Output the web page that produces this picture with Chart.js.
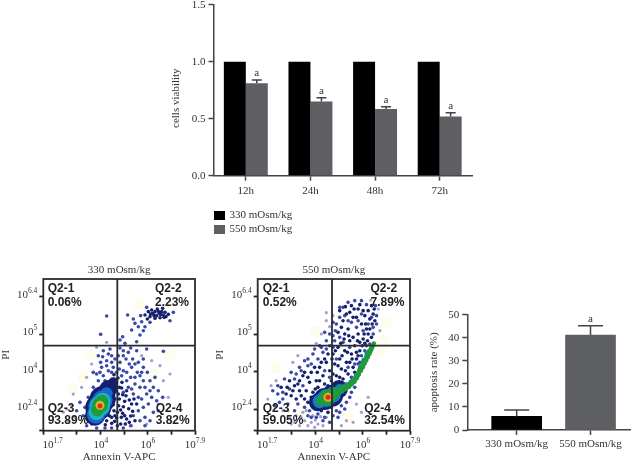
<!DOCTYPE html>
<html>
<head>
<title>Cell viability and apoptosis</title>
<style>
    body{margin:0;background:#fff;}
    canvas{position:absolute;filter:blur(0.35px);}
    .key{position:absolute;left:229.5px;font:11px "Liberation Serif";color:#333;line-height:13px;}
    .swatch{position:absolute;left:213.5px;width:11px;height:9px;}
</style>
</head>
<body>
<canvas id="viabilityChart" width="312" height="215" style="left:168px;top:0"></canvas>
<div class="swatch" style="top:211px;background:#000"></div>
<div class="key" style="top:208px">330 mOsm/kg</div>
<div class="swatch" style="top:225px;background:#5d5f63"></div>
<div class="key" style="top:222px">550 mOsm/kg</div>
<canvas id="flowChart1" width="212" height="204" style="left:0;top:260px"></canvas>
<canvas id="flowChart2" width="215" height="204" style="left:214px;top:260px"></canvas>
<canvas id="apoptosisChart" width="212" height="159" style="left:428px;top:305px"></canvas>
<script src="https://cdn.jsdelivr.net/npm/chart.js"></script>
<script>
const TEXT = "#333";
const AXIS = "#444";
const SERIF = "Liberation Serif";

// top bar chart
const hours = ["12h", "24h", "48h", "72h"];
const control = [1, 1, 1, 1];
const hyper = [0.81, 0.65, 0.585, 0.52];
const hyperErr = [0.03, 0.034, 0.02, 0.033];

// right bar chart
const groups = ["330 mOsm/kg", "550 mOsm/kg"];
const apoptosis = [5.9, 41.2];
const apoptosisErr = [2.8, 4];

// flow plots, axes are in instrument channels (0-455)
const xTicks = [0, 101, 173, 245, 314, 386, 455];
const yTicks = [0, 65, 177, 290, 402];
const xLabelPos = [28, 173, 314, 455];
const xLabelExp = ["1.7", "4", "6", "7.9"];
const yLabelPos = [65, 177, 290, 402];
const yLabelExp = ["2.4", "4", "5", "6.4"];
const gateX = 222;
const gateY = 255;
const gateNames = ["Q2-1", "Q2-2", "Q2-3", "Q2-4"];
const gateNameX1 = [13, 335, 13, 337];
const gateNameX2 = [15, 337, 15, 318];
const gateNameY = [427, 427, 67, 67];
const gatePctY = [384, 384, 29, 29];
const pct1 = ["0.06%", "2.23%", "93.89%", "3.82%"];
const pct2 = ["0.52%", "7.89%", "59.05%", "32.54%"];

const flow1Pale = [[140,227],[380,227],[90,127],[290,377],[120,160],[330,170]];
const flow1Lilac = [[95,40],[85,75],[90,110],[115,130],[130,160],[145,200],[160,250],[190,265],[70,65],[345,80],[360,150],[375,100],[325,210],[295,225],[350,195],[60,55],[75,30],[380,170],[310,20],[265,15]];
const flow1Blue = [[270,110],[285,60],[295,95],[290,130],[305,40],[275,140],[262,160],[250,150],[300,150],[315,80],[320,120],[330,55],[282,175],[265,190],[240,180],[228,185],[210,190],[195,180],[180,165],[165,150],[150,130],[135,100],[125,70],[135,40],[120,45],[110,85],[100,60],[145,20],[130,15],[160,8],[185,8],[205,8],[240,8],[175,190],[190,210],[205,225],[215,215],[230,205],[248,215],[255,235],[240,240],[200,245],[180,240],[165,225],[268,215],[285,205],[300,190],[312,175],[335,160],[345,120],[360,238],[310,245],[280,240],[172,205],[150,175],[190,344],[253,347],[275,322],[285,312],[295,327],[265,302],[238,282],[230,272],[172,289],[280,267],[290,287],[305,312],[270,335],[300,300],[245,262],[320,325],[292,345],[310,370],[380,330],[390,355],[235,165],[250,175],[275,160],[290,165],[305,130],[325,100],[340,90],[300,70],[310,110],[285,100],[265,125],[240,115],[255,130],[220,175],[205,175],[190,195],[170,175],[160,170],[185,150],[205,205],[225,225],[240,225],[258,200],[275,200],[295,175],[320,150],[330,130],[345,60],[358,100],[290,30],[305,15],[270,45],[262,15],[320,30],[230,248],[195,230],[178,222],[262,248],[300,215]];
const flow1Navy = [[190,30],[198,45],[205,22],[212,60],[220,38],[226,75],[232,20],[238,52],[244,88],[250,35],[256,66],[262,44],[215,95],[225,110],[235,128],[208,120],[200,88],[192,110],[218,140],[205,150],[228,95],[240,72],[248,105],[258,92],[268,58],[275,30],[280,80],[186,18],[196,62],[210,78],[222,55],[234,40],[246,20],[214,28],[202,72],[188,128],[196,140],[212,168],[224,158],[236,145],[305,347],[315,357],[320,342],[328,352],[335,357],[340,345],[348,352],[355,357],[360,347],[365,355],[350,339],[335,337],[325,362],[312,335],[342,365],[368,342],[375,349],[358,367],[210,100],[218,120],[238,108],[250,120],[265,80],[272,95],[200,100],[228,130],[188,95],[222,15],[258,25],[215,45],[205,40],[232,62],[244,45],[322,350],[332,345],[345,358],[352,348],[362,340]];
const flow1Core = [
    ["#14206f", [[155,45,10],[165,70,13],[178,95,13],[195,125,9],[210,145,5]]],
    ["#1a66d0", [[158,48,9],[168,72,11],[178,92,10],[190,112,6]]],
    ["#19b5c8", [[160,55,8],[170,75,10],[178,90,8]]],
    ["#1f9a3f", [[162,62,6.5],[170,77,8],[176,88,6.5]]],
    ["#c3c92a", [[170,76,4.5]]],
    ["#f08a1a", [[170,75,3.2]]],
    ["#e5231e", [[170,74,2.2]]]
];

const flow2Pale = [[175,297],[55,187],[385,327],[365,237],[375,270],[130,60],[270,40]];
const flow2Lilac = [[55,150],[40,135],[30,95],[95,40],[110,25],[125,15],[135,55],[150,15],[160,25],[170,10],[90,60],[75,60],[105,205],[120,225],[190,290],[205,330],[225,345],[205,354],[215,312],[175,262],[295,80],[310,55],[265,30],[330,100],[250,15],[285,25],[365,300],[360,365],[338,392],[140,30],[165,45],[180,20],[195,15],[205,40],[130,40],[115,45],[100,20],[145,60],[172,32],[188,42]];
const flow2Blue = [[60,110],[75,95],[90,80],[100,175],[110,60],[125,190],[140,210],[150,45],[165,230],[175,40],[185,255],[195,30],[205,270],[215,25],[225,285],[235,320],[245,340],[255,370],[270,385],[290,390],[310,390],[325,378],[345,310],[355,345],[352,375],[320,240],[300,200],[280,160],[265,140],[250,75],[235,60],[220,70],[240,40],[260,65],[275,100],[290,130],[230,270],[215,255],[195,235],[180,215],[160,200],[135,135],[115,170],[80,155],[65,85],[50,75],[45,120],[200,180],[215,160],[235,215],[255,265],[275,250],[295,310],[315,300],[270,330],[245,280],[225,250],[75,115],[60,135],[95,125],[110,155],[130,180],[150,195],[120,80],[140,70],[155,60],[180,50],[160,40],[200,40],[225,45],[245,55],[265,85],[280,115],[245,95],[150,215],[170,245],[190,250],[205,245],[215,290],[232,300],[225,325],[245,370],[260,345],[280,325],[300,330],[310,350],[330,320],[340,340],[355,320],[345,290],[335,260],[325,255],[310,225],[290,200],[270,190],[305,205],[200,295]];
const flow2Navy = [[70,130],[85,110],[95,150],[105,120],[115,95],[120,140],[130,105],[135,165],[145,120],[150,85],[155,145],[160,175],[165,115],[170,70],[175,150],[180,130],[185,190],[190,60],[195,165],[200,140],[205,205],[210,55],[215,180],[220,150],[225,230],[230,200],[235,165],[240,250],[245,215],[250,185],[255,155],[260,240],[265,205],[270,170],[275,270],[280,230],[285,190],[290,255],[295,215],[300,290],[305,240],[310,320],[315,275],[320,345],[325,305],[330,360],[335,335],[340,375],[345,350],[350,330],[330,290],[340,280],[270,305],[285,340],[260,290],[250,310],[265,350],[240,295],[300,365],[280,375],[245,360],[255,330],[262,372],[275,355],[288,365],[295,340],[305,378],[315,360],[322,320],[335,305],[342,320],[348,365],[320,262],[328,270],[312,255],[298,270],[285,280],[272,285],[258,275],[248,262],[232,240],[222,215],[210,230],[200,215],[190,205],[178,175],[170,190],[150,160],[140,175],[125,150],[110,135],[100,105],[88,130],[125,120],[140,95],[160,100],[172,125],[185,150],[198,120],[210,135],[225,170],[240,195],[252,225],[268,235],[282,215],[295,235],[305,265],[318,290],[262,180],[275,205],[290,175],[300,225],[245,160],[230,130],[258,135]];
const flow2Core = [
    ["#14206f", [[180,85,9],[200,95,11],[222,105,11],[243,125,9]]],
    ["#127fb8", [[185,88,7],[205,98,9],[225,108,8],[245,125,5],[262,132,3.5],[280,145,3],[296,165,3],[308,188,3],[318,210,3],[328,232,3]]],
    ["#1f9a3f", [[190,90,5],[208,100,8],[228,112,6],[248,122,4],[260,128,3.5],[270,135,3.5],[279,141,3],[287,148,3],[294,159,3],[300,170,3],[306,181,3],[312,192,3],[317,202,3],[322,212,3],[327,222,3],[332,232,3],[336,240,2.8],[340,248,2.6],[344,255,2.4],[347,262,2.2]]],
    ["#c3c92a", [[210,100,4.5]]],
    ["#f08a1a", [[210,100,3.4]]],
    ["#e5231e", [[210,100,2.4]]]
];

function barAxisY(width, opts){
    return Object.assign({
        min: 0,
        afterFit(s){ s.width = width; s.paddingTop = 0; s.paddingBottom = 0; },
        border: {color: AXIS, width: 1.5},
        grid: {drawOnChartArea: false, tickLength: 5, tickColor: AXIS, tickWidth: 1.5},
        ticks: {color: TEXT, font: {family: SERIF, size: 11}, padding: 3}
    }, opts);
}

// error bars and the "a" marks above them
function errorMarks(metaIndex, values, errors, capWidth, lettered){
    return {
        id: "errorMarks",
        afterDatasetsDraw(chart){
            const ctx = chart.ctx;
            const y = chart.scales.y;
            const bars = chart.getDatasetMeta(metaIndex).data;
            ctx.save();
            ctx.strokeStyle = AXIS;
            ctx.lineWidth = 1.5;
            ctx.fillStyle = TEXT;
            ctx.textAlign = "center";
            ctx.textBaseline = "middle";
            ctx.font = "11px " + SERIF;
            bars.forEach((bar, i) => {
                const top = y.getPixelForValue(values[i] + errors[i]);
                const base = y.getPixelForValue(values[i]);
                ctx.beginPath();
                ctx.moveTo(bar.x, base);
                ctx.lineTo(bar.x, top);
                ctx.moveTo(bar.x - capWidth / 2, top);
                ctx.lineTo(bar.x + capWidth / 2, top);
                ctx.stroke();
                if(lettered[i]) ctx.fillText("a", bar.x, top - 7);
            });
            ctx.restore();
        }
    };
}

const viabilityTitle = {
    id: "viabilityTitle",
    afterDraw(chart){
        const ctx = chart.ctx;
        ctx.save();
        ctx.translate(8, chart.scales.y.getPixelForValue(0.68));
        ctx.rotate(-Math.PI / 2);
        ctx.fillStyle = TEXT;
        ctx.font = "11px " + SERIF;
        ctx.textAlign = "center";
        ctx.textBaseline = "middle";
        ctx.fillText("cells viability", 0, 0);
        ctx.restore();
    }
};

new Chart(document.getElementById("viabilityChart"), {
    type: "bar",
    data: {
        labels: hours,
        datasets: [
            {label: "330 mOsm/kg", data: control, backgroundColor: "#000"},
            {label: "550 mOsm/kg", data: hyper, backgroundColor: "#5d5f63"}
        ]
    },
    options: {
        responsive: false,
        animation: false,
        layout: {padding: {top: 4.7, right: 8, bottom: 0, left: 0}},
        categoryPercentage: 0.68,
        barPercentage: 1,
        plugins: {legend: {display: false}, tooltip: {enabled: false}},
        scales: {
            x: {
                offset: true,
                afterFit(s){ s.height = 39.3; },
                border: {color: AXIS, width: 1.5},
                grid: {offset: false, drawOnChartArea: false, tickLength: 5, tickColor: AXIS, tickWidth: 1.5},
                ticks: {color: TEXT, font: {family: SERIF, size: 11}, padding: 4}
            },
            y: barAxisY(45.5, {
                max: 1.5,
                ticks: {
                    color: TEXT, font: {family: SERIF, size: 11}, padding: 3, stepSize: 0.5,
                    callback: v => v.toFixed(1)
                }
            })
        }
    },
    plugins: [errorMarks(1, hyper, hyperErr, 10, [true, true, true, true]), viabilityTitle]
});

new Chart(document.getElementById("apoptosisChart"), {
    type: "bar",
    data: {
        datasets: [{
            data: apoptosis.map((v, i) => ({x: i, y: v})),
            backgroundColor: ["#000", "#5d5f63"],
            barThickness: 50
        }]
    },
    options: {
        responsive: false,
        animation: false,
        layout: {padding: {top: 9.7, right: 10, bottom: 0, left: 0}},
        plugins: {legend: {display: false}, tooltip: {enabled: false}},
        scales: {
            x: {
                type: "linear",
                offset: false,
                min: -0.669,
                max: 1.535,
                afterFit(s){ s.height = 34; },
                afterBuildTicks(s){ s.ticks = groups.map((g, i) => ({value: i})); },
                border: {color: AXIS, width: 1.5},
                grid: {offset: false, drawOnChartArea: false, tickLength: 5, tickColor: AXIS, tickWidth: 1.5},
                ticks: {color: TEXT, font: {family: SERIF, size: 11}, padding: 3, maxRotation: 0, callback: v => groups[v]}
            },
            y: barAxisY(39.3, {
                max: 50,
                title: {display: true, text: "apoptosis rate (%)", color: TEXT, font: {family: SERIF, size: 11}, padding: 0},
                ticks: {color: TEXT, font: {family: SERIF, size: 11}, padding: 3, stepSize: 10}
            })
        }
    },
    plugins: [errorMarks(0, apoptosis, apoptosisErr, 25, [false, true])]
});

function toPoints(list){
    return list.map(p => p.length > 2 ? {x: p[0], y: p[1], r: p[2]} : {x: p[0], y: p[1]});
}

function cloud(list, color, radius){
    return {data: toPoints(list), backgroundColor: color, radius: radius, borderWidth: 0};
}

// frame, gates, gate text and the powers of ten
function flowDecor(gateNameX, pct){
    return {
        id: "flowDecor",
        afterDatasetsDraw(chart){
            const ctx = chart.ctx;
            const a = chart.chartArea;
            const x = chart.scales.x;
            const y = chart.scales.y;
            ctx.save();
            ctx.strokeStyle = "#2b2b2b";
            ctx.lineWidth = 1.8;
            ctx.strokeRect(a.left, a.top, a.right - a.left, a.bottom - a.top);
            ctx.beginPath();
            ctx.moveTo(x.getPixelForValue(gateX), a.top);
            ctx.lineTo(x.getPixelForValue(gateX), a.bottom);
            ctx.moveTo(a.left, y.getPixelForValue(gateY));
            ctx.lineTo(a.right, y.getPixelForValue(gateY));
            ctx.stroke();

            ctx.fillStyle = "#222";
            ctx.font = "bold 12px Liberation Sans";
            ctx.textAlign = "left";
            ctx.textBaseline = "middle";
            gateNames.forEach((name, i) => {
                ctx.fillText(name, x.getPixelForValue(gateNameX[i]), y.getPixelForValue(gateNameY[i]));
                ctx.fillText(pct[i], x.getPixelForValue(gateNameX[i]), y.getPixelForValue(gatePctY[i]));
            });

            ctx.fillStyle = TEXT;
            xLabelExp.forEach((exp, i) => {
                power(ctx, exp, x.getPixelForValue(xLabelPos[i]), a.bottom + 14.5, "center");
            });
            yLabelExp.forEach((exp, i) => {
                power(ctx, exp, a.left - 6, y.getPixelForValue(yLabelPos[i]) - 2, "right");
            });
            ctx.restore();
        }
    };
}

function power(ctx, exp, px, py, align){
    ctx.font = "11px " + SERIF;
    const baseWidth = ctx.measureText("10").width;
    ctx.font = "7.5px " + SERIF;
    const expWidth = ctx.measureText(exp).width;
    const total = baseWidth + expWidth;
    const left = align === "center" ? px - total / 2 : px - total;
    ctx.textAlign = "left";
    ctx.textBaseline = "middle";
    ctx.font = "11px " + SERIF;
    ctx.fillText("10", left, py);
    ctx.font = "7.5px " + SERIF;
    ctx.fillText(exp, left + baseWidth, py - 4);
}

function flowChart(id, heading, pale, lilac, blue, navy, core, gateNameX, pct, plotLeft, plotRight){
    const canvas = document.getElementById(id);
    const layers = [
        cloud(pale, "#fefcec", 6),
        cloud(lilac, "#a69bd6", 1.6),
        cloud(blue, "#3a48a8", 1.8),
        cloud(navy, "#17206f", 1.8)
    ];
    core.forEach(c => layers.push(cloud(c[1], c[0], 0)));
    layers.forEach((d, i) => { d.order = layers.length - i; });
    new Chart(canvas, {
        type: "bubble",
        data: {datasets: layers},
        options: {
            responsive: false,
            animation: false,
            layout: {padding: {top: 0, right: canvas.width - plotRight, bottom: 0, left: 0}},
            plugins: {
                legend: {display: false},
                tooltip: {enabled: false},
                title: {
                    display: true, text: heading, color: TEXT, fullSize: false,
                    font: {family: SERIF, size: 11, weight: "normal"},
                    padding: {top: 4, bottom: 1.8}
                }
            },
            scales: {
                x: {
                    type: "linear", min: 0, max: 455,
                    afterFit(s){ s.height = 33.3; s.paddingLeft = 0; s.paddingRight = 0; },
                    afterBuildTicks(s){ s.ticks = xTicks.map(v => ({value: v})); },
                    border: {display: false},
                    grid: {drawOnChartArea: false, tickLength: 4, tickColor: "#222", tickWidth: 1.8},
                    ticks: {display: false},
                    title: {display: true, text: "Annexin V-APC", color: TEXT, font: {family: SERIF, size: 11}, padding: {top: 0, bottom: 0}}
                },
                y: {
                    type: "linear", min: 0, max: 455,
                    afterFit(s){ s.width = plotLeft; s.paddingTop = 0; s.paddingBottom = 0; },
                    afterBuildTicks(s){ s.ticks = yTicks.map(v => ({value: v})); },
                    border: {display: false},
                    grid: {drawOnChartArea: false, tickLength: 4, tickColor: "#222", tickWidth: 1.8},
                    ticks: {display: false},
                    title: {display: true, text: "PI", color: TEXT, font: {family: SERIF, size: 11}, padding: 0}
                }
            }
        },
        plugins: [flowDecor(gateNameX, pct)]
    });
}

flowChart("flowChart1", "330 mOsm/kg", flow1Pale, flow1Lilac, flow1Blue, flow1Navy, flow1Core, gateNameX1, pct1, 43.3, 195);
flowChart("flowChart2", "550 mOsm/kg", flow2Pale, flow2Lilac, flow2Blue, flow2Navy, flow2Core, gateNameX2, pct2, 43.7, 196);
</script>
</body>
</html>
